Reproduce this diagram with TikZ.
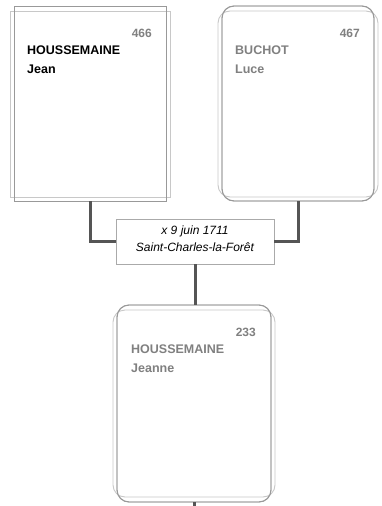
\documentclass[tikz,border=0pt]{standalone}
\usepackage{fontspec}
\setmainfont{Liberation Sans}
\definecolor{boxline}{HTML}{999999}
\definecolor{boxlight}{HTML}{C8C8C8}
\definecolor{marrline}{HTML}{AAAAAA}
\definecolor{conncol}{HTML}{555555}
\definecolor{greytext}{HTML}{808080}
\begin{document}
\begin{tikzpicture}[x=1pt,y=-1pt,
  personbox/.style={draw=boxline,line width=0.9pt,inner sep=0pt,outer sep=0pt},
  backbox/.style={draw=boxlight,line width=0.9pt},
  conn/.style={draw=conncol,line width=3pt},
  numtext/.style={font=\fontsize{12}{14}\selectfont\bfseries,text=greytext,inner sep=0pt,anchor=base east},
  nametext/.style={font=\fontsize{12.5}{14}\selectfont\bfseries,inner sep=0pt,anchor=base west},
  marrtext/.style={font=\fontsize{12}{14}\selectfont\itshape,inner sep=0pt,anchor=base}]
\useasboundingbox (0,0) rectangle (382,506);
\coordinate (end) at (194,506);
% person 466
\fill[white] (10,11) rectangle (170,197);
\node[personbox,fill=white,minimum width=152pt,minimum height=195pt] (p466) at (90,103.5) {};
\draw[backbox] (10,11) rectangle (170,197);
\node[personbox,minimum width=152pt,minimum height=195pt] at (p466) {};
\node[numtext] (n466) at (152,37) {466};
\node[nametext] (s466) at (27,54.5) {HOUSSEMAINE};
\node[nametext] (f466) at (27,73.5) {Jean};
% person 467
\fill[white,rounded corners=12pt] (218,11) rectangle (378,197);
\node[personbox,fill=white,rounded corners=12pt,minimum width=152pt,minimum height=195pt] (p467) at (298,103.5) {};
\draw[backbox,rounded corners=12pt] (218,11) rectangle (378,197);
\node[personbox,rounded corners=12pt,minimum width=152pt,minimum height=195pt] at (p467) {};
\node[numtext] (n467) at (360,37) {467};
\node[nametext,text=greytext] (s467) at (235,54.5) {BUCHOT};
\node[nametext,text=greytext] (f467) at (235,73.5) {Luce};
% marriage
\node[draw=marrline,line width=0.8pt,fill=white,minimum width=158pt,minimum height=45pt,inner sep=0pt] (m) at (195,241.5) {};
\node[marrtext] (m1) at (195,234) {x 9 juin 1711};
\node[marrtext] (m2) at (195,251) {Saint-Charles-la-Forêt};
% person 233
\fill[white,rounded corners=12pt] (113,310) rectangle (275,497);
\node[personbox,fill=white,rounded corners=12pt,minimum width=154pt,minimum height=197pt] (p233) at (194,403.5) {};
\draw[backbox,rounded corners=12pt] (113,310) rectangle (275,497);
\node[personbox,rounded corners=12pt,minimum width=154pt,minimum height=197pt] at (p233) {};
\node[numtext] (n233) at (256,336) {233};
\node[nametext,text=greytext] (s233) at (131,353.5) {HOUSSEMAINE};
\node[nametext,text=greytext] (f233) at (131,372.5) {Jeanne};
% connectors
\draw[conn] (p466.south) |- (m.west);
\draw[conn] (p467.south) |- (m.east);
\draw[conn] (m.south) -- (m.south |- p233.north);
\draw[conn] (p233.south) -- (end);
\end{tikzpicture}
\end{document}
